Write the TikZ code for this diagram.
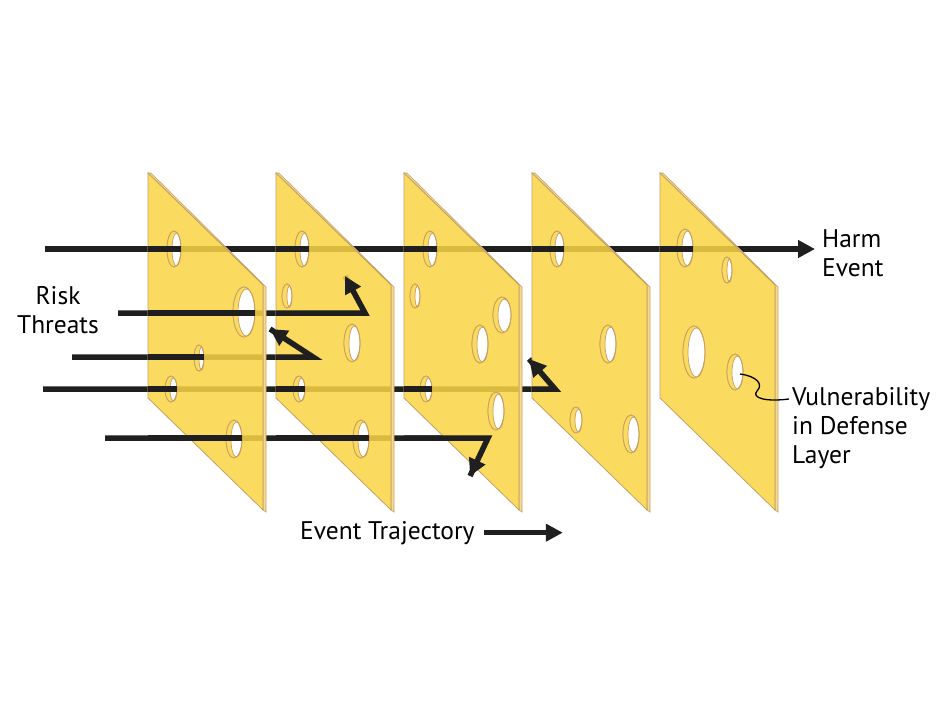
\documentclass[tikz,border=0pt]{standalone}
\usepackage{fontspec}
\setmainfont{PT Sans}
\usepackage{xcolor}
\usetikzlibrary{arrows.meta}
\definecolor{cheese}{HTML}{FAD446}
\definecolor{rind}{HTML}{C4A068}
\definecolor{cheeseside}{HTML}{F4DA8C}

\begin{document}
\begin{tikzpicture}[x=1pt,y=-1pt,
  slab/.style={fill=cheese,fill opacity=.86,draw=rind,line width=.8pt,even odd rule},
  rim/.style={fill=cheese,fill opacity=.86,draw=rind,line width=.7pt,even odd rule},
  slabside/.style={fill=cheeseside,draw=rind,line width=.6pt},
  track/.style={line width=5.5pt,draw=black!88},
  headed/.style={-{Triangle[length=17pt,width=17pt]}},
  caption/.style={font=\fontsize{25.5}{29}\selectfont,inner sep=0pt}]
\useasboundingbox (0,0) rectangle (950,714);

% trajectories, the parts behind the slices
\coordinate (harmtip) at (815,249);
\draw[track,headed](45,249)--(harmtip);
\draw[track](118,313)--(365,313)--(345,276);
\draw[track](72,357)--(313,357)--(270,329);
\draw[track](43,389)--(555,389)--(529,359);
\draw[track](105,438)--(488,438)--(470,476);

% slice 1
\def\holes{174/249/7/18,244/312/11/25,199/358/5/13,171/389/6/13,234/439/8/19}
\draw[slabside](148,173)--(151,173)--(266,287)--(266,512)--(263,510)--(263,285)--cycle;
\draw[slab](148,173)--(263,285)--(263,510)--(148,398)--cycle
  foreach \x/\y/\a/\b in \holes {(\x,\y) ellipse[x radius=\a,y radius=\b]};
\foreach \x/\y/\a/\b in \holes
  \draw[rim](\x,\y) ellipse[x radius=\a,y radius=\b] (\x+2.5,\y+.5) ellipse[x radius=\a-2.5,y radius=\b-1.5];

% slice 2
\def\holes{302/249/7/18,287/296/5/12,352/343/8/19,299/389/6/13,361/439/8/19}
\draw[slabside](276,173)--(279,173)--(394,287)--(394,512)--(391,510)--(391,285)--cycle;
\draw[slab](276,173)--(391,285)--(391,510)--(276,398)--cycle
  foreach \x/\y/\a/\b in \holes {(\x,\y) ellipse[x radius=\a,y radius=\b]};
\foreach \x/\y/\a/\b in \holes
  \draw[rim](\x,\y) ellipse[x radius=\a,y radius=\b] (\x+2.5,\y+.5) ellipse[x radius=\a-2.5,y radius=\b-1.5];

% slice 3
\def\holes{430/249/7/18,415/296/5/12,502/315/9/18,480/344/8/19,426/389/6/13,496/411/8/19}
\draw[slabside](404,173)--(407,173)--(522,287)--(522,512)--(519,510)--(519,285)--cycle;
\draw[slab](404,173)--(519,285)--(519,510)--(404,398)--cycle
  foreach \x/\y/\a/\b in \holes {(\x,\y) ellipse[x radius=\a,y radius=\b]};
\foreach \x/\y/\a/\b in \holes
  \draw[rim](\x,\y) ellipse[x radius=\a,y radius=\b] (\x+2.5,\y+.5) ellipse[x radius=\a-2.5,y radius=\b-1.5];

% slice 4
\def\holes{557/249/7/18,608/344/8/19,576/420/6/13,631/434/8/19}
\draw[slabside](532,173)--(535,173)--(650,287)--(650,512)--(647,510)--(647,285)--cycle;
\draw[slab](532,173)--(647,285)--(647,510)--(532,398)--cycle
  foreach \x/\y/\a/\b in \holes {(\x,\y) ellipse[x radius=\a,y radius=\b]};
\foreach \x/\y/\a/\b in \holes
  \draw[rim](\x,\y) ellipse[x radius=\a,y radius=\b] (\x+2.5,\y+.5) ellipse[x radius=\a-2.5,y radius=\b-1.5];

% slice 5
\def\holes{685/248/8/19,727/270/5/13,694/352/11/26,735/372/8/18}
\draw[slabside](660,173)--(663,173)--(778,287)--(778,512)--(775,510)--(775,285)--cycle;
\draw[slab](660,173)--(775,285)--(775,510)--(660,398)--cycle
  foreach \x/\y/\a/\b in \holes {(\x,\y) ellipse[x radius=\a,y radius=\b]};
\foreach \x/\y/\a/\b in \holes
  \draw[rim](\x,\y) ellipse[x radius=\a,y radius=\b] (\x+2.5,\y+.5) ellipse[x radius=\a-2.5,y radius=\b-1.5];

% trajectories, the parts in front of the slices
\draw[track](148,249)--(181,249) (276,249)--(309,249) (404,249)--(437,249) (532,249)--(564,249) (660,249)--(693,249);
\draw[track](148,313)--(255,313);
\draw[track,headed](276,313)--(365,313)--(345,276);
\draw[track](148,357)--(204,357);
\draw[track,headed](276,357)--(313,357)--(270,329);
\draw[track](148,389)--(177,389) (276,389)--(305,389) (404,389)--(432,389);
\draw[track,headed](532,389)--(555,389)--(529,359);
\draw[track](148,438)--(242,438) (276,438)--(369,438);
\draw[track,headed](404,438)--(488,438)--(470,476);

% labels
\node[caption,anchor=north west,align=left](harm) at (822,229) {Harm\\Event};
\node[caption,anchor=north,align=center](risk) at (58,286) {Risk\\Threats};
\node[caption,anchor=north west,align=left](vuln) at (792,387) {Vulnerability\\in Defense\\Layer};
\node[caption,anchor=base west](traj) at (300,539) {Event Trajectory};
\draw[track,line width=4.5pt,headed]([xshift=9]traj.east)--++(79,0);
\draw[line width=1.3pt](740,374)..controls(756,376)and(764,384)..(757,391)
  ..controls(751,398)and(766,402)..([shift={(-3,12)}]vuln.north west);
\end{tikzpicture}
\end{document}
